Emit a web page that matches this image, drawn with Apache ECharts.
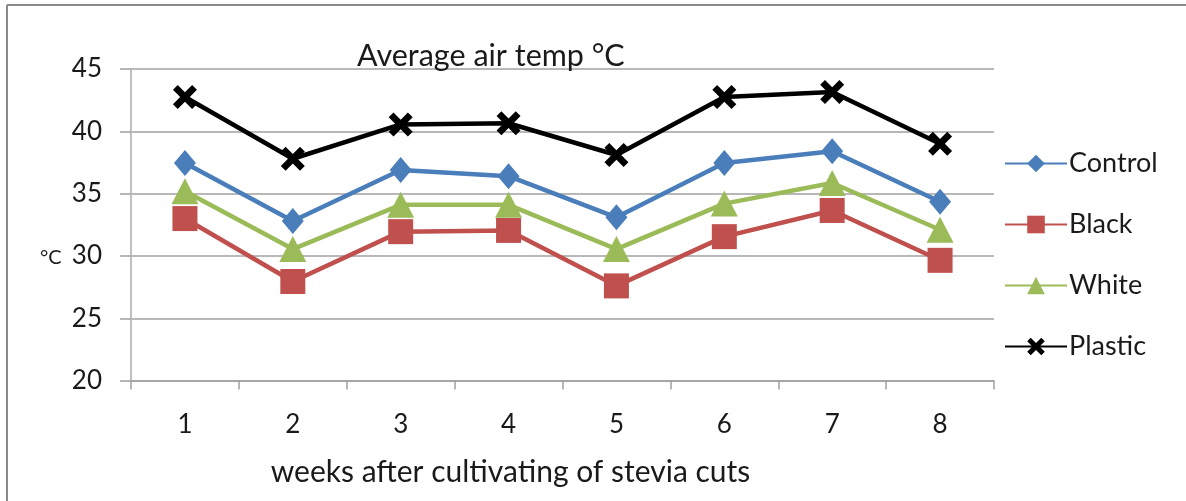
<!DOCTYPE html>
<html>
<head>
<meta charset="utf-8">
<script src="https://cdn.jsdelivr.net/npm/echarts@6/dist/echarts.min.js"></script>
<style>
html,body{margin:0;padding:0;background:#fff;}
#c{width:1186px;height:501px;}
</style>
</head>
<body>
<div id="c"></div>
<script>
const weeks = ['1','2','3','4','5','6','7','8'];
const control = [37.45, 32.8, 36.9, 36.4, 33.1, 37.45, 38.4, 34.35];
const black   = [33.0, 27.95, 31.95, 32.05, 27.6, 31.55, 33.65, 29.65];
const white   = [35.2, 30.55, 34.1, 34.1, 30.55, 34.2, 35.85, 32.1];
const plastic = [42.75, 37.8, 40.55, 40.65, 38.1, 42.75, 43.15, 39.0];
const yTicks = [20, 25, 30, 35, 40, 45];

const FONT = 'Lato';
const TXT = '#1a1a1a';
const X_PATH = 'path://M2,0 L5,3 L8,0 L10,2 L7,5 L10,8 L8,10 L5,7 L2,10 L0,8 L3,5 L0,2 Z';

const chart = echarts.init(document.getElementById('c'), null, {renderer: 'canvas'});

function mk(name, data, color, symbol, size) {
  return {
    name: name, type: 'line', data: data,
    symbol: symbol, symbolSize: size,
    lineStyle: {color: color, width: 4.5},
    itemStyle: {color: color},
    emphasis: {disabled: true},
    animation: false, z: 3
  };
}

chart.setOption({
  animation: false,
  backgroundColor: '#fff',
  title: {
    text: 'Average air temp °C',
    left: 357, top: 41, padding: 0,
    textStyle: {fontFamily: FONT, fontSize: 30.5, fontWeight: 'normal', color: TXT}
  },
  legend: {
    orient: 'vertical',
    left: 1004, top: 150, padding: 0,
    itemWidth: 62, itemHeight: 22, itemGap: 34,
    textStyle: {fontFamily: FONT, fontSize: 27, lineHeight: 22, color: TXT, padding: [0,0,0,-3]},
    data: ['Control', 'Black', 'White', 'Plastic']
  },
  grid: {left: 131, right: 192, top: 69, bottom: 120.4, containLabel: false},
  xAxis: {
    type: 'category', data: weeks, boundaryGap: true,
    name: 'weeks after cultivating of stevia cuts',
    nameLocation: 'middle', nameGap: 77,
    nameTextStyle: {fontFamily: FONT, fontSize: 30, color: TXT, padding: [0, 104, 0, 0]},
    axisLine: {lineStyle: {color: '#a0a0a0', width: 1.5}},
    axisTick: {show: true, length: 9, lineStyle: {color: '#a0a0a0', width: 1.5}},
    axisLabel: {fontFamily: FONT, fontSize: 26, color: TXT, margin: 31}
  },
  yAxis: {
    type: 'value', min: yTicks[0], max: yTicks[yTicks.length-1], interval: 5,
    axisLine: {show: true, lineStyle: {color: '#c0c0c0', width: 2}},
    axisTick: {show: true, length: 11, lineStyle: {color: '#a0a0a0', width: 1.5}},
    axisLabel: {fontFamily: FONT, fontSize: 26, color: TXT, margin: 29},
    splitLine: {show: true, lineStyle: {color: '#a0a0a0', width: 1.5}}
  },
  graphic: [
    {type: 'line', shape: {x1: 7, y1: 5, x2: 1186, y2: 5}, style: {stroke: '#8a8a8a', lineWidth: 2}, silent: true},
    {type: 'line', shape: {x1: 7, y1: 5, x2: 7, y2: 501}, style: {stroke: '#8a8a8a', lineWidth: 2}, silent: true},
    {type: 'text', left: 40, top: 248, silent: true,
     style: {text: '°C', font: '20px Lato', fill: TXT}}
  ],
  series: [
    mk('Control', control, '#4a7ebb', 'diamond', [22, 26]),
    mk('Black', black, '#c0504d', 'rect', 25),
    mk('White', white, '#9bbb59', 'triangle', [27, 26]),
    mk('Plastic', plastic, '#000000', X_PATH, 24)
  ]
});
</script>
</body>
</html>
